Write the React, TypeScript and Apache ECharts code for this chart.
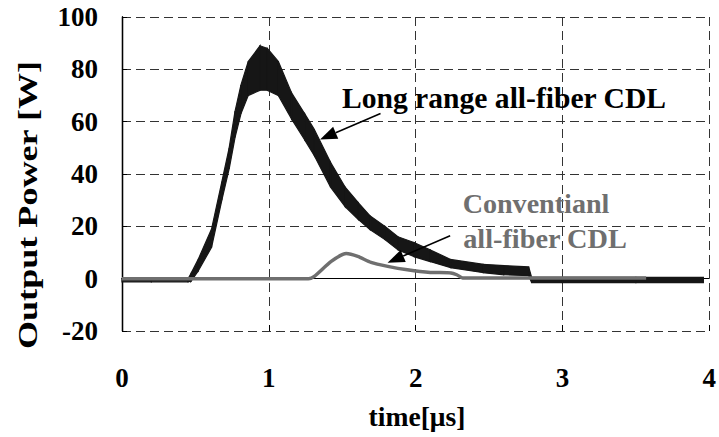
import React, { useEffect, useRef } from "react";
import * as echarts from "echarts";

// Long range all-fiber CDL: noisy trace, read as upper / lower envelope
const timeUs = [0, 0.2, 0.45, 0.47, 0.52, 0.61, 0.68, 0.73, 0.77, 0.81, 0.86, 0.94, 0.99, 1.065, 1.155, 1.245, 1.31, 1.42, 1.52, 1.61, 1.69, 1.79, 1.88, 1.99, 2.1, 2.24, 2.46, 2.6, 2.77, 2.79, 3.0, 3.5, 3.96];
const longUpper = [0, 0, 0, 2, 7.5, 19, 37, 50, 64, 74, 83, 89, 88, 83, 71, 63, 57, 44.5, 35, 29, 24, 20, 16, 13.8, 11, 7.3, 5.5, 5, 4.5, 0.5, 0.5, 0.5, 0.5];
const longLower = [-1.2, -1.2, -1.2, -1, 3, 12, 30, 42, 54, 63, 70, 72, 72, 70, 61, 53, 47, 35, 27.5, 22.6, 18.7, 15, 11, 8.4, 6.5, 4.2, 2.3, 1.5, 1.2, -1.5, -1.5, -1.5, -1.5];

// Conventional all-fiber CDL
const convTime = [0, 1.27, 1.31, 1.425, 1.527, 1.606, 1.696, 1.81, 1.944, 2.1, 2.24, 2.28, 2.32, 3.57];
const convPower = [0, 0, 0.9, 6.6, 9.6, 8.5, 6.2, 4.7, 3.4, 2.4, 2.2, 1.5, 0.3, 0.3];

// Axis ticks
const xTicks = [0, 1, 2, 3, 4];
const yTicks = [-20, 0, 20, 40, 60, 80, 100];

// Annotation arrows: [startT, startP, tipT, tipP]
const arrowLong = [1.761, 63.1, 1.349, 53.2];
const arrowConv = [2.235, 16.4, 1.809, 6.1];

const FONT = `"Liberation Serif", "Times New Roman", serif`;

function measure(text: string, size: number): number {
  const c = document.createElement("canvas");
  const ctx = c.getContext("2d");
  if (!ctx) return text.length * size * 0.5;
  ctx.font = `bold ${size}px ${FONT}`;
  return ctx.measureText(text).width;
}

export default function App() {
  const ref = useRef<HTMLDivElement>(null);
  useEffect(() => {
    if (!ref.current) return;
    const chart = echarts.init(ref.current, null, { renderer: "svg" });
    const bandData = timeUs.map((t, i) => [t, longLower[i], longUpper[i]]);
    const convData = convTime.map((t, i) => [t, convPower[i]]);
    const labelStyle = { fontFamily: FONT, fontWeight: "bold", fontSize: 27, color: "#000" };
    const grey = "#6f6f6f";
    const dark = "#161616";
    chart.setOption({
      animation: false,
      backgroundColor: "#fff",
      textStyle: { fontFamily: FONT, fontWeight: "bold" },
      grid: { left: 122, right: 5, top: 17, bottom: 106, containLabel: false },
      xAxis: [
        {
          type: "value",
          position: "bottom",
          min: xTicks[0],
          max: xTicks[xTicks.length - 1],
          interval: 1,
          axisLine: { show: false, onZero: false },
          axisTick: { show: true, inside: true, length: 6, lineStyle: { color: "#000", width: 1 } },
          axisLabel: { ...labelStyle, margin: 33 },
          splitLine: { show: true, lineStyle: { color: "#333", width: 1, type: [9, 5] } },
        },
        {
          type: "value",
          position: "top",
          min: xTicks[0],
          max: xTicks[xTicks.length - 1],
          interval: 1,
          axisLine: { show: true, onZero: true, lineStyle: { color: "#000", width: 1 } },
          axisTick: { show: false },
          axisLabel: { show: false },
          splitLine: { show: false },
        },
      ],
      yAxis: [
        {
          type: "value",
          min: yTicks[0],
          max: yTicks[yTicks.length - 1],
          interval: 20,
          axisLine: { show: true, lineStyle: { color: "#000", width: 1.3 } },
          axisTick: { show: true, inside: true, length: 5, lineStyle: { color: "#000" } },
          axisLabel: { ...labelStyle, margin: 24 },
          splitLine: { show: true, lineStyle: { color: "#333", width: 1, type: [9, 5] } },
        },
        {
          type: "value",
          position: "right",
          min: yTicks[0],
          max: yTicks[yTicks.length - 1],
          interval: 20,
          axisLine: { show: true, lineStyle: { color: "#000", width: 1.3 } },
          axisTick: { show: false },
          axisLabel: { show: false },
          splitLine: { show: false },
        },
      ],
      series: [
        {
          name: "Long range all-fiber CDL",
          type: "custom",
          data: bandData,
          encode: { x: 0, y: [1, 2] },
          z: 3,
          renderItem: (params: any, api: any) => {
            const i = params.dataIndex;
            if (i >= timeUs.length - 1) return null;
            const p1 = api.coord([timeUs[i], longLower[i]]);
            const p2 = api.coord([timeUs[i], longUpper[i]]);
            const p3 = api.coord([timeUs[i + 1], longUpper[i + 1]]);
            const p4 = api.coord([timeUs[i + 1], longLower[i + 1]]);
            return {
              type: "polygon",
              shape: { points: [p1, p2, p3, p4] },
              style: { fill: dark, stroke: dark, lineWidth: 1.2 },
            };
          },
        },
        {
          name: "Conventianl all-fiber CDL",
          type: "line",
          data: convData,
          symbol: "none",
          smooth: 0.2,
          lineStyle: { color: grey, width: 3.5 },
          z: 4,
        },
      ],
    });

    const arrow = (a: number[]) => {
      const s = chart.convertToPixel({ gridIndex: 0 }, [a[0], a[1]]) as number[];
      const tip = chart.convertToPixel({ gridIndex: 0 }, [a[2], a[3]]) as number[];
      const dx = tip[0] - s[0];
      const dy = tip[1] - s[1];
      const len = Math.hypot(dx, dy);
      const ux = dx / len;
      const uy = dy / len;
      const hl = 17;
      const hw = 6.5;
      const bx = tip[0] - ux * hl;
      const by = tip[1] - uy * hl;
      return [
        { type: "line", shape: { x1: s[0], y1: s[1], x2: bx, y2: by }, style: { stroke: "#000", lineWidth: 1.5 }, z: 10 },
        {
          type: "polygon",
          shape: { points: [tip, [bx - uy * hw, by + ux * hw], [bx + uy * hw, by - ux * hw]] },
          style: { fill: "#000" },
          z: 10,
        },
      ];
    };

    // text fitted to the width it has in the reference
    const fitted = (text: string, x: number, y: number, width: number, fill: string) => {
      const size = Math.min(32, Math.max(20, (28 * width) / measure(text, 28)));
      return {
        type: "text",
        x,
        y,
        style: { text, font: `bold ${size.toFixed(1)}px ${FONT}`, fill, textAlign: "center", textVerticalAlign: "middle" },
      };
    };

    const yName = "Output Power [W]";
    const yNameScale = 289 / measure(yName, 28);

    chart.setOption({
      graphic: [
        ...arrow(arrowLong),
        ...arrow(arrowConv),
        fitted("Long range all-fiber CDL", 504, 98, 325, "#000"),
        fitted("Conventianl", 536, 203, 147, grey),
        fitted("all-fiber CDL", 545, 238, 164, grey),
        fitted("time[μs]", 417, 416, 97, "#000"),
        {
          type: "text",
          x: 27,
          y: 205,
          rotation: Math.PI / 2,
          scaleX: yNameScale,
          style: { text: yName, font: `bold 28px ${FONT}`, fill: "#000", textAlign: "center", textVerticalAlign: "middle" },
        },
      ],
    });
    return () => chart.dispose();
  }, []);
  return <div ref={ref} style={{ position: "fixed", left: 0, top: 0, width: 719, height: 437 }} />;
}
